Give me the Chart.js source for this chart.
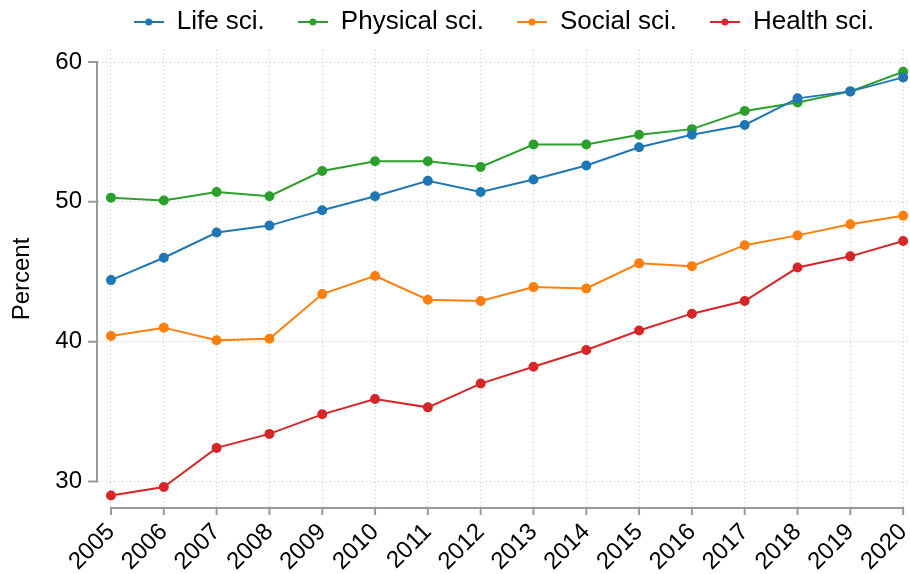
<!DOCTYPE html>
<html>
<head>
<meta charset="utf-8">
<script src="https://cdn.jsdelivr.net/npm/chart.js@4.4.1/dist/chart.umd.min.js"></script>
<style>
  body { margin: 0; background: #fff; }
  #wrap { width: 910px; height: 574px; position: relative; }
</style>
</head>
<body>
<div id="wrap"><canvas id="chart"></canvas></div>
<script>
// Share of degrees by field, 2005-2020
var years = [2005, 2006, 2007, 2008, 2009, 2010, 2011, 2012, 2013, 2014, 2015, 2016, 2017, 2018, 2019, 2020];
var lifeSci = [44.4, 46.0, 47.8, 48.3, 49.4, 50.4, 51.5, 50.7, 51.6, 52.6, 53.9, 54.8, 55.5, 57.4, 57.9, 58.9];
var physSci = [50.3, 50.1, 50.7, 50.4, 52.2, 52.9, 52.9, 52.5, 54.1, 54.1, 54.8, 55.2, 56.5, 57.1, 57.9, 59.3];
var socSci = [40.4, 41.0, 40.1, 40.2, 43.4, 44.7, 43.0, 42.9, 43.9, 43.8, 45.6, 45.4, 46.9, 47.6, 48.4, 49.0];
var healthSci = [29.0, 29.6, 32.4, 33.4, 34.8, 35.9, 35.3, 37.0, 38.2, 39.4, 40.8, 42.0, 42.9, 45.3, 46.1, 47.2];
var yTicks = [30, 40, 50, 60];

var seriesNames = ['Life sci.', 'Physical sci.', 'Social sci.', 'Health sci.'];
var seriesValues = [lifeSci, physSci, socSci, healthSci];
var seriesColors = ['#1f77b4', '#2ca02c', '#ff7f0e', '#d62728'];

Chart.defaults.font.family = "'Liberation Sans', Arial, sans-serif";
Chart.defaults.color = '#000';

// Small legend marker: a line with a dot in the middle
function makeMarker(color) {
    var c = document.createElement('canvas');
    c.width = 30; c.height = 12;
    var g = c.getContext('2d');
    g.strokeStyle = color;
    g.lineWidth = 2;
    g.beginPath(); g.moveTo(0, 6); g.lineTo(30, 6); g.stroke();
    g.fillStyle = color;
    g.beginPath(); g.arc(15, 6, 3.5, 0, Math.PI * 2); g.fill();
    return c;
}

var datasets = seriesNames.map(function(name, i) {
    return {
        label: name,
        data: years.map(function(yr, j) { return {x: yr, y: seriesValues[i][j]}; }),
        borderColor: seriesColors[i],
        backgroundColor: seriesColors[i],
        borderWidth: 2,
        pointRadius: 4,
        pointHoverRadius: 4,
        tension: 0
    };
});

// Stata-like axis lines and ticks drawn from the scales
var axisLines = {
    id: 'axisLines',
    beforeInit: function(chart) {
        var fit = chart.legend.fit;
        chart.legend.fit = function() {
            fit.bind(chart.legend)();
            this.height = 74;
        };
    },
    beforeDatasetsDraw: function(chart) {
        var ctx = chart.ctx;
        var xs = chart.scales.x, ys = chart.scales.y;
        var area = chart.chartArea;
        ctx.save();
        ctx.strokeStyle = '#999';
        ctx.lineWidth = 2;
        // y axis
        var yx = area.left - 1;
        ctx.beginPath();
        ctx.moveTo(yx, ys.getPixelForValue(60) - 1);
        ctx.lineTo(yx, ys.getPixelForValue(30) + 1);
        yTicks.forEach(function(v) {
            var py = ys.getPixelForValue(v);
            ctx.moveTo(yx - 9, py);
            ctx.lineTo(yx, py);
        });
        ctx.stroke();
        // x axis
        var xy = area.bottom;
        ctx.beginPath();
        ctx.moveTo(xs.getPixelForValue(2005) - 1, xy);
        ctx.lineTo(xs.getPixelForValue(2020) + 1, xy);
        years.forEach(function(v) {
            var px = xs.getPixelForValue(v);
            ctx.moveTo(px, xy);
            ctx.lineTo(px, xy + 7);
        });
        ctx.stroke();
        ctx.restore();
    }
};

var ctx = document.getElementById('chart').getContext('2d');
var myChart = new Chart(ctx, {
    type: 'line',
    data: { datasets: datasets },
    plugins: [axisLines],
    options: {
        responsive: true,
        maintainAspectRatio: false,
        animation: false,
        layout: { autoPadding: false, padding: { top: -24, right: 0, left: 0, bottom: 0 } },
        plugins: {
            tooltip: { enabled: false },
            legend: {
                position: 'top',
                fullSize: false,
                labels: {
                    usePointStyle: true,
                    pointStyleWidth: 30,
                    padding: 33,
                    font: { size: 26 },
                    color: '#000',
                    generateLabels: function(chart) {
                        return chart.data.datasets.map(function(ds, i) {
                            return {
                                text: ds.label,
                                pointStyle: makeMarker(seriesColors[i]),
                                fillStyle: seriesColors[i],
                                strokeStyle: seriesColors[i],
                                lineWidth: 0,
                                datasetIndex: i
                            };
                        });
                    }
                }
            }
        },
        scales: {
            x: {
                type: 'linear',
                min: 2004.754,
                max: 2020.13,
                afterBuildTicks: function(scale) {
                    scale.ticks = years.map(function(v) { return {value: v}; });
                },
                afterFit: function(scale) {
                    scale.height = 66;
                    scale.paddingLeft = 0;
                    scale.paddingRight = 0;
                },
                grid: {
                    color: '#c8c8c8',
                    lineWidth: 1,
                    drawTicks: false
                },
                border: { display: false, dash: [1, 3] },
                ticks: {
                    autoSkip: false,
                    minRotation: 45,
                    maxRotation: 45,
                    padding: 10,
                    font: { size: 24 },
                    color: '#000',
                    callback: function(v) { return String(v); }
                }
            },
            y: {
                min: 28.1,
                max: 60.86,
                afterBuildTicks: function(scale) {
                    scale.ticks = yTicks.map(function(v) { return {value: v}; });
                },
                afterFit: function(scale) { scale.width = 98; },
                grid: {
                    color: '#c8c8c8',
                    lineWidth: 1,
                    drawTicks: false
                },
                border: { display: false, dash: [1, 3] },
                ticks: {
                    padding: 16,
                    font: { size: 24 },
                    color: '#000',
                    callback: function(v) { return String(v); }
                },
                title: {
                    display: true,
                    text: 'Percent',
                    font: { size: 24 },
                    color: '#000',
                    padding: { top: 8, bottom: 0 }
                }
            }
        }
    }
});
</script>
</body>
</html>
